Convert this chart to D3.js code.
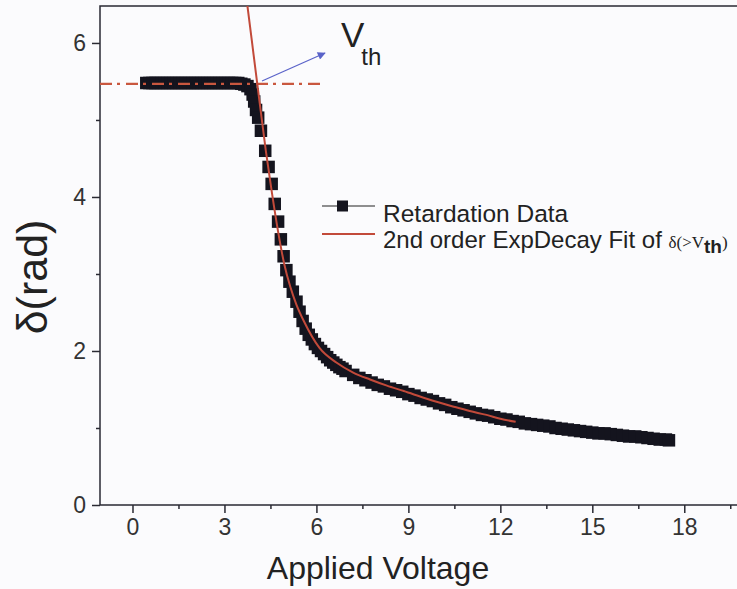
<!DOCTYPE html>
<html>
<head>
<meta charset="utf-8">
<script src="https://cdn.jsdelivr.net/npm/d3@7"></script>
<style>
  body { margin: 0; background: #fbfbfd; }
  svg { display: block; font-family: Arial, "Liberation Sans", sans-serif; }
  .axis text { font-size: 23px; font-family: Arial, "Liberation Sans", sans-serif; fill: #333; }
</style>
</head>
<body>
<div id="chart"></div>
<script>
// measured points (V, rad)
var voltage = [
  0.45, 0.55, 0.65, 0.75, 0.85, 0.95, 1.05, 1.15, 1.25, 1.35,
  1.45, 1.55, 1.65, 1.75, 1.85, 1.95, 2.05, 2.15, 2.25, 2.35,
  2.45, 2.55, 2.65, 2.75, 2.85, 2.95, 3.05, 3.15, 3.25, 3.35,
  3.45, 3.55, 3.65, 3.75, 3.85, 3.92, 3.97, 4.03, 4.10, 4.19,
  4.33, 4.44, 4.54, 4.64, 4.75, 4.84, 4.93, 5.02, 5.12, 5.23,
  5.35, 5.45, 5.55, 5.65, 5.75, 5.85, 5.95, 6.05, 6.15, 6.25,
  6.35, 6.45, 6.55, 6.65, 6.75, 6.85, 6.95, 7.2, 7.4, 7.6,
  7.8, 8.0, 8.2, 8.4, 8.6, 8.8, 9.0, 9.2, 9.4, 9.6,
  9.8, 10.0, 10.2, 10.4, 10.6, 10.8, 11.0, 11.2, 11.4, 11.6,
  11.8, 12.0, 12.2, 12.4, 12.6, 12.8, 13.0, 13.2, 13.4, 13.6,
  13.8, 14.0, 14.2, 14.4, 14.6, 14.8, 15.0, 15.2, 15.4, 15.6,
  15.8, 16.0, 16.2, 16.4, 16.6, 16.8, 17.0, 17.2, 17.4, 17.5
];
var retardation = [
  5.48, 5.48, 5.48, 5.48, 5.48, 5.48, 5.48, 5.48, 5.48, 5.48,
  5.48, 5.48, 5.48, 5.48, 5.48, 5.48, 5.48, 5.48, 5.48, 5.48,
  5.48, 5.48, 5.48, 5.48, 5.48, 5.48, 5.48, 5.48, 5.48, 5.48,
  5.48, 5.47, 5.46, 5.44, 5.40, 5.33, 5.24, 5.13, 5.03, 4.86,
  4.60, 4.39, 4.17, 3.91, 3.68, 3.45, 3.23, 3.05, 2.90, 2.77,
  2.64, 2.51, 2.39, 2.29, 2.21, 2.15, 2.09, 2.04, 2.00, 1.96,
  1.92, 1.88, 1.85, 1.82, 1.79, 1.77, 1.74, 1.69, 1.65, 1.62,
  1.59, 1.56, 1.54, 1.51, 1.49, 1.47, 1.44, 1.42, 1.39, 1.37,
  1.35, 1.32, 1.30, 1.27, 1.25, 1.23, 1.21, 1.19, 1.17, 1.16,
  1.14, 1.12, 1.11, 1.09, 1.08, 1.06, 1.05, 1.04, 1.03, 1.02,
  1.00, 0.99, 0.98, 0.97, 0.96, 0.95, 0.94, 0.93, 0.93, 0.92,
  0.91, 0.90, 0.89, 0.89, 0.88, 0.87, 0.86, 0.85, 0.85, 0.84
];

// 2nd order exp decay fit
var fitVoltage = [3.60, 3.75, 3.95, 4.15, 4.35, 4.55, 4.75, 4.95, 5.15, 5.35,
                  5.60, 6.10, 6.65, 7.20, 7.75, 8.30, 8.85, 9.60, 10.45, 11.00,
                  11.55, 12.00, 12.50];
var fitRetardation = [6.95, 6.48, 5.85, 5.22, 4.60, 4.05, 3.55, 3.13, 2.83, 2.60,
                      2.38, 2.04, 1.85, 1.72, 1.63, 1.55, 1.48, 1.38, 1.28, 1.22,
                      1.17, 1.12, 1.08];

// threshold marker
var thresholdLevel = 5.47;
var thresholdLineEnd = 6.28;

var xTicks = [0, 3, 6, 9, 12, 15, 18];
var xMinorTicks = [1.5, 4.5, 7.5, 10.5, 13.5, 16.5, 19.5];
var yTicks = [0, 2, 4, 6];
var yMinorTicks = [1, 3, 5];

var width = 737;
var height = 589;

var plotLeft = 100, plotRight = 737, plotTop = 6, plotBottom = 505;

var svg = d3.select("#chart").append("svg")
    .attr("width", width)
    .attr("height", height);

svg.append("rect").attr("width", width).attr("height", height).attr("fill", "#fbfbfd");

var x = d3.scaleLinear().domain([-1.06, 19.72]).range([plotLeft, plotRight]);
var y = d3.scaleLinear().domain([0, 6.48]).range([plotBottom, plotTop]);

var defs = svg.append("defs");
defs.append("clipPath").attr("id", "plotclip")
  .append("rect")
    .attr("x", plotLeft).attr("y", plotTop)
    .attr("width", plotRight - plotLeft).attr("height", plotBottom - plotTop);

defs.append("marker")
    .attr("id", "arrowhead")
    .attr("viewBox", "0 0 10 10")
    .attr("refX", 9).attr("refY", 5)
    .attr("markerWidth", 10).attr("markerHeight", 8)
    .attr("markerUnits", "userSpaceOnUse")
    .attr("orient", "auto")
  .append("path")
    .attr("d", "M0,0 L10,5 L0,10 Z")
    .attr("fill", "#5a63c9");

// axes
var xAxis = d3.axisBottom(x).tickValues(xTicks).tickSize(8).tickPadding(6).tickFormat(d3.format("d"));
var xMinor = d3.axisBottom(x).tickValues(xMinorTicks).tickSize(4).tickFormat("");
var yAxis = d3.axisLeft(y).tickValues(yTicks).tickSize(8).tickPadding(6).tickFormat(d3.format("d"));
var yMinor = d3.axisLeft(y).tickValues(yMinorTicks).tickSize(4).tickFormat("");

svg.append("g").attr("class", "axis").attr("transform", "translate(0," + plotBottom + ")").call(xAxis);
svg.append("g").attr("class", "axis").attr("transform", "translate(0," + plotBottom + ")").call(xMinor);
svg.append("g").attr("class", "axis").attr("transform", "translate(" + plotLeft + ",0)").call(yAxis);
svg.append("g").attr("class", "axis").attr("transform", "translate(" + plotLeft + ",0)").call(yMinor);

svg.selectAll(".axis").attr("font-size", 23).attr("font-family", "Arial, 'Liberation Sans', sans-serif");
svg.selectAll(".axis .domain").remove();
svg.selectAll(".axis line").attr("stroke", "#2a2a33").attr("stroke-width", 1.5);
svg.selectAll(".axis text").attr("fill", "#333").attr("font-size", 23);

// frame: left, bottom and top (right side runs off the picture)
svg.append("path")
    .attr("d", "M" + plotRight + "," + plotTop + " L" + plotLeft + "," + plotTop +
               " L" + plotLeft + "," + plotBottom + " L" + plotRight + "," + plotBottom)
    .attr("fill", "none")
    .attr("stroke", "#2a2a33")
    .attr("stroke-width", 1.5);

var plot = svg.append("g").attr("clip-path", "url(#plotclip)");

var pts = voltage.map(function(v, i) { return {v: v, r: retardation[i]}; });
var sq = 12.5;
plot.selectAll(".pt")
    .data(pts)
    .enter()
    .append("rect")
    .attr("class", "pt")
    .attr("x", function(d) { return x(d.v) - sq / 2; })
    .attr("y", function(d) { return y(d.r) - sq / 2; })
    .attr("width", sq)
    .attr("height", sq)
    .attr("fill", "#14141e");

// dash-dot threshold level
plot.append("line")
    .attr("x1", x(-1.06)).attr("x2", x(thresholdLineEnd))
    .attr("y1", y(thresholdLevel)).attr("y2", y(thresholdLevel))
    .attr("stroke", "#c9573f")
    .attr("stroke-width", 2.2)
    .attr("stroke-dasharray", "12,5,3,6");

var fitPts = fitVoltage.map(function(v, i) { return [v, fitRetardation[i]]; });
var line = d3.line()
    .x(function(d) { return x(d[0]); })
    .y(function(d) { return y(d[1]); })
    .curve(d3.curveMonotoneX);

plot.append("path")
    .datum(fitPts)
    .attr("d", line)
    .attr("fill", "none")
    .attr("stroke", "#c24a3a")
    .attr("stroke-width", 2);

// arrow pointing at the Vth label
svg.append("line")
    .attr("x1", 262).attr("y1", 81)
    .attr("x2", 325).attr("y2", 53)
    .attr("stroke", "#5a63c9")
    .attr("stroke-width", 1.2)
    .attr("marker-end", "url(#arrowhead)");

var vth = svg.append("text").attr("x", 341).attr("y", 47).attr("fill", "#222");
vth.append("tspan").style("font-size", "35px").text("V");
vth.append("tspan").attr("y", 65).attr("dx", -3).style("font-size", "24px").text("th");

// axis titles
svg.append("text")
    .attr("x", 378).attr("y", 579)
    .attr("text-anchor", "middle")
    .attr("fill", "#222")
    .style("font-size", "32px")
    .text("Applied Voltage");

svg.append("text")
    .attr("transform", "translate(47,277) rotate(-90)")
    .attr("text-anchor", "middle")
    .attr("fill", "#222")
    .style("font-size", "43px")
    .text("δ(rad)");

// legend
var leg = svg.append("g");
leg.append("line").attr("x1", 322).attr("x2", 375).attr("y1", 206).attr("y2", 206)
    .attr("stroke", "#222").attr("stroke-width", 1.2);
leg.append("rect").attr("x", 337).attr("y", 200.5).attr("width", 11).attr("height", 11).attr("fill", "#14141e");
leg.append("text").attr("x", 383).attr("y", 222).attr("fill", "#222")
    .style("font-size", "24.5px").text("Retardation Data");

leg.append("line").attr("x1", 322).attr("x2", 375).attr("y1", 234).attr("y2", 234)
    .attr("stroke", "#c24a3a").attr("stroke-width", 2);
var t2 = leg.append("text").attr("x", 383).attr("y", 248).attr("fill", "#222").style("font-size", "24px");
t2.append("tspan").text("2nd order ExpDecay Fit of ");
t2.append("tspan").style("font-family", "'Liberation Serif', 'DejaVu Serif', serif").style("font-size", "17px").text("δ(>V");
t2.append("tspan").attr("dy", 5).style("font-weight", "bold").style("font-size", "19px").text("th");
t2.append("tspan").attr("dy", -5).style("font-family", "'Liberation Serif', serif").style("font-size", "17px").text(")");
</script>
</body>
</html>
